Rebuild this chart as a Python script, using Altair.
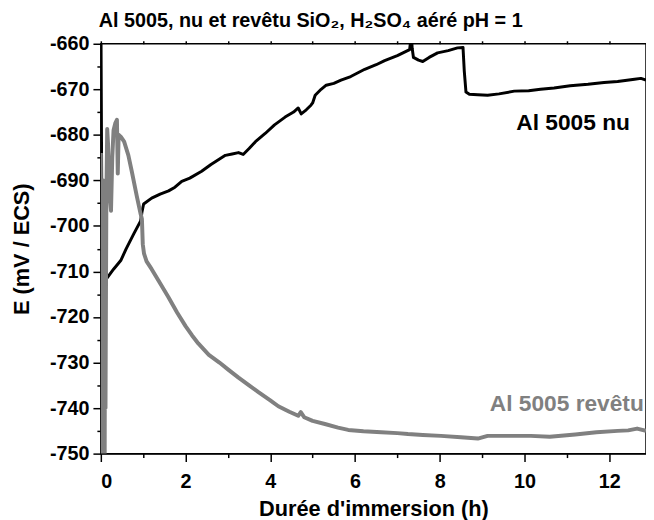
import altair as alt
import pandas as pd

# ---- data ----
nu_t = [0.0, 0.02, 0.08, 0.14, 0.18, 0.3, 0.47, 0.6, 0.78, 0.94, 0.97, 1.01, 1.2, 1.4,
        1.6, 1.75, 1.91, 2.1, 2.38, 2.6, 2.94, 3.1, 3.25, 3.36, 3.5, 3.65, 3.88, 4.1,
        4.35, 4.55, 4.66, 4.73, 4.85, 4.96, 5.0, 5.06, 5.2, 5.32, 5.5, 5.67, 5.9, 6.23,
        6.5, 6.7, 7.0, 7.29, 7.33, 7.35, 7.38, 7.5, 7.6, 7.75, 7.95, 8.2, 8.42, 8.55,
        8.58, 8.62, 8.7, 8.9, 9.13, 9.4, 9.76, 10.1, 10.38, 10.7, 11.08, 11.5, 11.88,
        12.2, 12.6, 12.75, 12.87]
nu_E = [-652, -690, -708, -711.5, -711, -709.5, -707.6, -705, -701.7, -698.9, -697,
        -695.2, -693.9, -693, -692.3, -691.5, -690.2, -689.5, -688.0, -686.5, -684.5,
        -684.2, -683.9, -684.3, -683, -681.5, -679.7, -677.8, -676.1, -675, -674.1,
        -675.4, -674.5, -673.5, -673, -671.3, -670, -669.1, -668.7, -668.0, -667.2,
        -665.6, -664.6, -663.7, -662.6, -661.3, -658, -661, -663, -663.6, -663.9, -663,
        -662, -661.5, -660.9, -660.8, -666, -670.6, -671.1, -671.2, -671.3, -671,
        -670.4, -670.3, -670, -669.7, -669.2, -668.9, -668.5, -668.3, -667.8, -667.6,
        -668]

rev_t = [0.0, 0.01, 0.02, 0.03, 0.04, 0.05, 0.06, 0.07, 0.08, 0.09, 0.1, 0.11, 0.13,
         0.15, 0.17, 0.2, 0.24, 0.27, 0.3, 0.34, 0.38, 0.4, 0.42, 0.47, 0.55, 0.65,
         0.73, 0.85, 0.94, 0.97, 0.99, 1.02, 1.08, 1.2, 1.36, 1.6, 1.8, 2.0, 2.15, 2.3,
         2.55, 2.8, 3.0, 3.25, 3.5, 3.72, 4.0, 4.19, 4.45, 4.66, 4.72, 4.8, 5.0, 5.29,
         5.6, 5.84, 6.2, 6.62, 7.0, 7.25, 7.6, 8.03, 8.5, 8.9, 9.13, 9.6, 10.15, 10.6,
         11.2, 11.7, 12.2, 12.45, 12.66, 12.87]
rev_E = [-684, -755, -690, -756, -700, -756, -690, -756, -695, -756, -705, -740, -695,
         -678.7, -682, -692, -696.7, -685, -679, -677.5, -676.7, -688.5, -680, -680.4,
         -681.5, -684.5, -688, -693.5, -697.4, -698.5, -704, -706.1, -707.8, -709.5,
         -712, -715.7, -719, -722, -724, -725.8, -728.3, -730, -731.5, -733.3, -735,
         -736.5, -738.3, -739.6, -740.8, -741.7, -740.9, -742, -742.8, -743.5, -744.3,
         -744.8, -745.1, -745.3, -745.5, -745.7, -745.9, -746.1, -746.4, -746.7,
         -746.1, -746.1, -746.1, -746.3, -745.8, -745.3, -745.0, -744.9, -744.5, -745.0]

label_text = ["Al 5005 nu", "Al 5005 revêtu"]
label_t = [11.15, 11.0]
label_E = [-677.4, -739.1]
label_color = ["#000000", "#808080"]

major_x = [0, 2, 4, 6, 8, 10, 12]
minor_x = [1, 3, 5, 7, 9, 11]
major_y = [-750, -740, -730, -720, -710, -700, -690, -680, -670, -660]
minor_y = [-745, -735, -725, -715, -705, -695, -685, -675, -665]

FONT = "Liberation Sans"

nu = pd.DataFrame({"t": nu_t, "E": nu_E})
rev = pd.DataFrame({"t": rev_t, "E": rev_E})
labels = pd.DataFrame({"txt": label_text, "t": label_t, "E": label_E, "c": label_color})

xs = alt.Scale(domain=[0, 12.87], nice=False, zero=False)
ys = alt.Scale(domain=[-750, -660], nice=False, zero=False)

major_x_axis = alt.Axis(values=major_x, orient="bottom", tickSize=8, labelPadding=10,
                        title="Durée d'immersion (h)", titlePadding=8, grid=False,
                        labelExpr="'' + datum.value")
major_y_axis = alt.Axis(values=major_y, orient="left", tickSize=8, labelPadding=4,
                        title="E (mV / ECS)", titlePadding=16, grid=False,
                        labelExpr="'' + datum.value")
minor_x_axis = alt.Axis(values=minor_x, orient="bottom", tickSize=4, labels=False,
                        domain=False, title=None, grid=False)
minor_y_axis = alt.Axis(values=minor_y, orient="left", tickSize=4, labels=False,
                        domain=False, title=None, grid=False)
top_axis = alt.Axis(values=major_x + minor_x, orient="top", tickSize=3, labels=False,
                    domain=False, title=None, grid=False)

black = alt.Chart(nu).mark_line(color="#000000", strokeWidth=3, clip=True,
                                strokeJoin="round").encode(
    x=alt.X("t:Q", scale=xs, axis=major_x_axis),
    y=alt.Y("E:Q", scale=ys, axis=major_y_axis),
)
gray = alt.Chart(rev).mark_line(color="#808080", strokeWidth=4, clip=True,
                                strokeJoin="round").encode(
    x=alt.X("t:Q", scale=xs, axis=minor_x_axis),
    y=alt.Y("E:Q", scale=ys, axis=minor_y_axis),
)
text = alt.Chart(labels).mark_text(font=FONT, fontSize=23, fontWeight="bold",
                                   align="center", baseline="middle").encode(
    x=alt.X("t:Q", scale=xs, axis=top_axis),
    y=alt.Y("E:Q", scale=ys, axis=None),
    text="txt:N",
    color=alt.Color("c:N", scale=None),
)

chart = alt.layer(black, gray, text).resolve_axis(
    x="independent", y="independent"
).properties(
    width=552,
    height=415,
    autosize=alt.AutoSizeParams(type="none"),
    padding={"left": 94, "top": 33, "right": 0, "bottom": 64},
    title=alt.TitleParams(
        text="Al 5005, nu et revêtu SiO₂, H₂SO₄ aéré pH = 1",
        anchor="start", frame="group", font=FONT, fontSize=20, fontWeight="bold",
        color="#000000", offset=3, dx=-2,
    ),
).configure_view(
    stroke="#000000", strokeWidth=1.5
).configure_axis(
    labelFont=FONT, labelFontSize=20, labelFontWeight="bold", labelColor="#000000",
    titleFont=FONT, titleFontSize=22, titleFontWeight="bold", titleColor="#000000",
    domainColor="#000000", domainWidth=1.5, tickColor="#000000", tickWidth=1.5,
)

chart.save("out.html", embed_options={"renderer": "svg", "actions": False})
